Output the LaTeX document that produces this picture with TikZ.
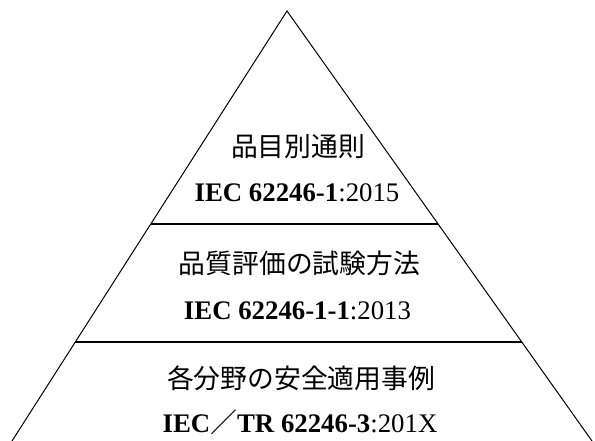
\documentclass[tikz,border=0pt]{standalone}
\usepackage{fontspec}
\setmainfont{Liberation Serif}
\newfontfamily\jp{Noto Sans CJK JP}
\begin{document}
\begin{tikzpicture}[x=1pt,y=-1pt,
  side/.style={line width=1pt, line join=miter},
  tier/.style={line width=1.5pt},
  lbl/.style={anchor=base, inner sep=0pt, font=\fontsize{26.8}{30}\selectfont}]
\useasboundingbox (0,0) rectangle (595,441);
\coordinate (apex) at (287,11);
\coordinate (bl) at (12,441);
\coordinate (br) at (592,441);
\coordinate (aL) at (150.8,224);
\coordinate (aR) at (438.1,224);
\coordinate (bL) at (75.3,342);
\coordinate (bR) at (521.8,342);
\draw[side] (bl) -- (apex) -- (br);
\draw[tier] (aL) -- (aR);
\draw[tier] (bL) -- (bR);
\node[lbl] (t1) at (298,157) {\jp 品目別通則};
\node[lbl] (s1) at (297,202) {\textbf{IEC 62246-1}:2015};
\node[lbl] (t2) at (299.5,273) {\jp 品質評価の試験方法};
\node[lbl] (s2) at (297.5,319) {\textbf{IEC 62246-1-1}:2013};
\node[lbl] (t3) at (301,388) {\jp 各分野の安全適用事例};
\node[lbl] (s3) at (300,432) {\textbf{IEC}{\jp ／}\textbf{TR 62246-3}:201X};
\end{tikzpicture}
\end{document}
